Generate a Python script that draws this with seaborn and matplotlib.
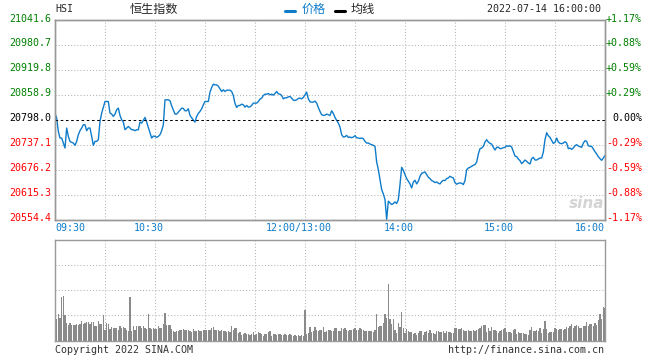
import numpy as np
import matplotlib
matplotlib.use("Agg")
import matplotlib.pyplot as plt
import seaborn as sns
from matplotlib.lines import Line2D
from matplotlib.transforms import ScaledTranslation

# Dados do grafico (HSI, 2022-07-14, um ponto por minuto, 09:30-12:00 + 13:00-16:00)
prev_close = 20798.0
price_ticks = [21041.6, 20980.7, 20919.8, 20858.9, 20798.0, 20737.1, 20676.2, 20615.3, 20554.4]
time_labels = ["09:30", "10:30", "12:00/13:00", "14:00", "15:00", "16:00"]
time_ticks = [0, 60, 150, 210, 270, 330]
grid_minutes = list(range(0, 331, 30))

prices = [
    # 09:30 - 10:00
    20814.2, 20802.0, 20769.6, 20753.3, 20753.3, 20741.1, 20729.0, 20777.7, 20757.4, 20745.2,
    20742.8, 20741.1, 20735.5, 20745.2, 20761.4, 20771.2, 20777.7, 20785.8, 20785.8, 20771.2,
    20777.7, 20777.7, 20757.4, 20735.5, 20745.2, 20745.2, 20749.3, 20793.9, 20814.2, 20828.0,
    # 10:00 - 10:30
    20842.6, 20842.6, 20842.6, 20814.2, 20811.8, 20806.1, 20811.8, 20822.3, 20826.4, 20808.5,
    20798.0, 20792.3, 20773.6, 20777.7, 20781.7, 20777.7, 20773.6, 20773.6, 20771.2, 20773.6,
    20773.6, 20792.3, 20789.9, 20796.4, 20803.7, 20792.3, 20779.3, 20765.5, 20753.3, 20758.2,
    # 10:30 - 11:00
    20757.4, 20754.9, 20757.4, 20761.4, 20771.2, 20785.8, 20846.7, 20846.7, 20846.7, 20844.3,
    20832.1, 20822.3, 20811.8, 20811.8, 20816.7, 20821.5, 20826.4, 20825.6, 20819.9, 20819.9,
    20824.8, 20808.5, 20802.9, 20797.2, 20792.3, 20806.1, 20813.4, 20818.3, 20824.8, 20834.5,
    # 11:00 - 11:30
    20842.6, 20842.6, 20842.6, 20865.4, 20876.7, 20884.9, 20883.2, 20883.2, 20880.0, 20873.5,
    20867.0, 20871.1, 20867.0, 20870.2, 20870.2, 20870.2, 20867.0, 20857.3, 20837.8, 20828.0,
    20832.9, 20832.9, 20836.1, 20834.5, 20828.8, 20832.9, 20828.8, 20829.6, 20832.9, 20838.6,
    # 11:30 - 12:00
    20838.6, 20838.6, 20842.6, 20848.3, 20850.8, 20857.3, 20860.5, 20860.5, 20862.1, 20858.9,
    20860.5, 20858.1, 20862.1, 20867.0, 20861.3, 20860.5, 20857.3, 20849.1, 20851.6, 20851.6,
    20854.0, 20854.8, 20850.8, 20845.9, 20845.1, 20846.7, 20849.9, 20850.8, 20849.1, 20852.4,
    # 12:00/13:00 - 13:30
    20858.9, 20865.4, 20849.1, 20841.8, 20841.0, 20841.0, 20843.5, 20838.6, 20828.0, 20818.3,
    20810.2, 20808.5, 20809.3, 20811.8, 20810.2, 20808.5, 20819.9, 20813.4, 20803.7, 20796.4,
    20789.9, 20780.1, 20761.4, 20755.8, 20756.6, 20759.8, 20754.9, 20755.8, 20754.1, 20755.8,
    # 13:30 - 14:00
    20759.0, 20754.1, 20753.3, 20752.5, 20753.3, 20751.7, 20745.2, 20741.1, 20741.1, 20738.7,
    20737.1, 20735.5, 20733.0, 20694.9, 20676.2, 20651.8, 20627.5, 20616.9, 20603.1, 20554.4,
    20599.0, 20595.0, 20590.9, 20593.4, 20597.4, 20593.4, 20603.1, 20639.6, 20681.9, 20674.6,
    # 14:00 - 14:30
    20664.0, 20654.3, 20647.8, 20641.3, 20631.5, 20646.1, 20650.2, 20641.3, 20647.8, 20659.9,
    20667.2, 20668.9, 20670.5, 20664.0, 20657.5, 20654.3, 20649.4, 20647.8, 20644.5, 20646.1,
    20642.9, 20641.3, 20646.9, 20650.2, 20649.4, 20654.3, 20655.9, 20659.9, 20657.5, 20655.9,
    # 14:30 - 15:00
    20644.5, 20640.5, 20642.9, 20643.7, 20642.9, 20639.6, 20649.4, 20676.2, 20680.2, 20681.9,
    20684.3, 20686.7, 20688.4, 20694.9, 20714.3, 20727.3, 20729.0, 20733.0, 20743.6, 20749.3,
    20743.6, 20740.3, 20738.7, 20730.6, 20724.1, 20730.6, 20731.4, 20727.3, 20728.1, 20729.8,
    # 15:00 - 15:30
    20730.6, 20734.6, 20733.0, 20734.6, 20731.4, 20720.8, 20709.5, 20707.8, 20702.2, 20698.1,
    20690.8, 20694.9, 20699.7, 20696.5, 20692.4, 20690.0, 20703.0, 20706.2, 20699.7, 20699.7,
    20702.2, 20704.6, 20704.6, 20719.2, 20749.3, 20766.3, 20759.0, 20754.9, 20747.6, 20740.3,
    # 15:30 - 16:00
    20742.8, 20753.3, 20743.6, 20740.3, 20739.5, 20741.1, 20744.4, 20741.1, 20727.3, 20729.0,
    20725.7, 20729.0, 20734.6, 20737.1, 20733.8, 20732.2, 20730.6, 20741.1, 20746.8, 20745.2,
    20734.6, 20733.0, 20733.0, 20726.5, 20720.0, 20714.3, 20707.8, 20703.0, 20698.9, 20704.6,
    20711.1,
]

# volume relativo (1 unidade = uma linha da grade do painel inferior)
volume = [
    0.80, 0.85, 1.05, 0.89, 1.72, 1.79, 1.03, 0.69, 0.63, 0.69,
    0.63, 0.63, 0.60, 0.67, 0.63, 0.67, 0.76, 0.67, 0.69, 0.73,
    0.73, 0.66, 0.73, 0.73, 0.56, 0.59, 0.76, 0.66, 0.66, 1.03,
    0.40, 0.69, 0.65, 0.45, 0.53, 0.49, 0.49, 0.49, 0.40, 0.56,
    0.49, 0.53, 0.50, 0.43, 0.36, 1.72, 0.36, 0.56, 0.40, 0.59,
    0.59, 0.59, 0.49, 0.59, 0.49, 0.45, 1.07, 0.49, 0.45, 0.49,
    0.45, 0.45, 0.56, 0.49, 0.49, 0.67, 1.09, 0.63, 0.63, 0.63,
    0.45, 0.36, 0.32, 0.36, 0.36, 0.40, 0.43, 0.45, 0.40, 0.40,
    0.40, 0.36, 0.32, 0.45, 0.36, 0.36, 0.43, 0.36, 0.36, 0.40,
    0.40, 0.40, 0.40, 0.40, 0.49, 0.53, 0.43, 0.43, 0.43, 0.36,
    0.40, 0.36, 0.36, 0.32, 0.36, 0.32, 0.56, 0.43, 0.49, 0.49,
    0.29, 0.32, 0.23, 0.27, 0.29, 0.27, 0.27, 0.23, 0.27, 0.32,
    0.23, 0.27, 0.32, 0.29, 0.27, 0.19, 0.27, 0.27, 0.32, 0.36,
    0.19, 0.27, 0.27, 0.23, 0.27, 0.27, 0.23, 0.23, 0.27, 0.23,
    0.23, 0.27, 0.23, 0.19, 0.23, 0.19, 0.23, 0.19, 0.23, 0.19,
    1.23, 0.27, 0.29, 0.53, 0.32, 0.36, 0.53, 0.40, 0.36, 0.40,
    0.43, 0.53, 0.32, 0.36, 0.40, 0.40, 0.36, 0.36, 0.49, 0.49,
    0.36, 0.36, 0.49, 0.45, 0.49, 0.43, 0.36, 0.43, 0.43, 0.45,
    0.49, 0.40, 0.43, 0.49, 0.45, 0.40, 0.36, 0.36, 0.36, 0.36,
    0.36, 0.32, 0.43, 1.07, 0.53, 0.59, 0.59, 0.69, 1.07, 0.89,
    2.23, 0.85, 0.67, 0.85, 0.40, 0.29, 0.69, 0.53, 1.12, 0.49,
    0.29, 0.45, 0.36, 0.32, 0.32, 0.27, 0.29, 0.23, 0.29, 0.36,
    0.36, 0.23, 0.32, 0.36, 0.29, 0.40, 0.29, 0.29, 0.27, 0.36,
    0.36, 0.32, 0.32, 0.36, 0.29, 0.36, 0.32, 0.32, 0.29, 0.29,
    0.49, 0.49, 0.45, 0.45, 0.49, 0.40, 0.36, 0.36, 0.40, 0.36,
    0.36, 0.40, 0.36, 0.40, 0.45, 0.49, 0.56, 0.63, 0.63, 0.32,
    0.49, 0.36, 0.53, 0.40, 0.40, 0.36, 0.29, 0.36, 0.43, 0.45,
    0.49, 0.32, 0.32, 0.32, 0.29, 0.43, 0.45, 0.27, 0.32, 0.29,
    0.29, 0.29, 0.27, 0.27, 0.23, 0.40, 0.53, 0.36, 0.36, 0.40,
    0.36, 0.49, 0.29, 0.45, 0.79, 0.45, 0.29, 0.32, 0.32, 0.32,
    0.49, 0.45, 0.43, 0.45, 0.45, 0.40, 0.45, 0.53, 0.49, 0.56,
    0.67, 0.49, 0.56, 0.63, 0.56, 0.49, 0.49, 0.59, 0.56, 0.72,
    0.56, 0.67, 0.67, 0.56, 0.69, 0.63, 0.80, 1.07, 0.85, 1.33,
    1.31,
]

minutes = np.arange(331)
assert len(prices) == len(minutes) and len(volume) == len(minutes)

BLUE = "#0f7cca"
GREEN = "#008000"
RED = "#ff0000"
FRAME = "#999999"
GRID = "#b4b4b4"
MONO = "DejaVu Sans Mono"
CJK = ["Noto Sans CJK SC", "DejaVu Sans"]

sns.set_style("white")
plt.rcParams["font.family"] = [MONO, "Noto Sans CJK SC"]

W, H = 660, 360
fig = plt.figure(figsize=(W / 100, H / 100), dpi=100)


def box(l, t, r, b):
    return [l / W, 1 - b / H, (r - l) / W, (b - t) / H]


def fx(x):
    return x / W


def fy(y):
    return 1 - y / H


ax = fig.add_axes(box(55, 20, 605, 219.5))
vax = fig.add_axes(box(55, 240, 605, 340.5))

# linha de preco
sns.lineplot(x=minutes, y=prices, ax=ax, color=BLUE, linewidth=1.0)
ax.axhline(prev_close, color="black", lw=0.75, ls=(0, (2.5, 2.5)), zorder=3)
ax.set_xlim(0, 330)
ax.set_ylim(price_ticks[-1], price_ticks[0])
ax.set_xlabel("")
ax.set_ylabel("")
ax.set_xticks(grid_minutes)
ax.set_xticklabels([])
ax.set_yticks(price_ticks)
ax.set_yticklabels([f"{v:.1f}" for v in price_ticks])
ax.tick_params(length=0, labelsize=7.2, pad=3)
ax.grid(True, color=GRID, lw=0.75, ls=(0, (1, 2)))
for gl, v in zip(ax.get_ygridlines(), price_ticks):
    if v == prev_close:
        gl.set_visible(False)

up = ScaledTranslation(0, 0.025, fig.dpi_scale_trans)
for lbl, v in zip(ax.get_yticklabels(), price_ticks):
    lbl.set_color(GREEN if v > prev_close else RED if v < prev_close else "black")
    lbl.set_transform(lbl.get_transform() + up)

# eixo da direita em percentual
rax = ax.twinx()
rax.set_ylim(price_ticks[-1], price_ticks[0])
rax.set_yticks(price_ticks)
pct_labels = []
for v in price_ticks:
    pct = (v - prev_close) / prev_close * 100
    pct_labels.append("0.00%" if abs(pct) < 0.005 else f"{pct:+.2f}%")
rax.set_yticklabels(pct_labels)
rax.tick_params(length=0, labelsize=7.2, pad=26.6)
for lbl, v in zip(rax.get_yticklabels(), price_ticks):
    lbl.set_horizontalalignment("right")
    lbl.set_color(GREEN if v > prev_close else RED if v < prev_close else "black")
    lbl.set_transform(lbl.get_transform() + up)

for a in (ax, rax, vax):
    for s in a.spines.values():
        s.set_color(FRAME)
        s.set_linewidth(1.0)
        s.set_visible(True)

# horarios
for m, lbl in zip(time_ticks, time_labels):
    if m == time_ticks[0]:
        ha, dx = "left", 0
    elif m == time_ticks[-1]:
        ha, dx = "right", 0
    else:
        ha, dx = "center", -6
    ax.annotate(lbl, xy=(m, 0), xycoords=("data", "axes fraction"), xytext=(dx, -8),
                textcoords="offset pixels", ha=ha, va="center", color=BLUE,
                fontsize=7.2, family=MONO)

# volume (posicoes categoricas 0..330 = minutos)
sns.barplot(x=minutes, y=volume, ax=vax, color="#8a8a8a", saturation=1,
            width=0.7, errorbar=None, linewidth=0, edgecolor="none")
vax.set_xlim(0, 330)
vax.set_ylim(0, 4)
vax.set_xlabel("")
vax.set_ylabel("")
vax.set_xticks(grid_minutes)
vax.set_xticklabels([])
vax.set_yticks([1, 2, 3])
vax.set_yticklabels([])
vax.tick_params(length=0)
vax.grid(True, color=GRID, lw=0.75, ls=(0, (1, 2)))
vax.set_axisbelow(True)

# cabecalho
fig.text(fx(55), fy(9.5), "HSI", ha="left", va="center", fontsize=7.2, family=MONO)
fig.text(fx(130), fy(9.5), "恒生指数", ha="left", va="center", fontsize=8.7, family=CJK)
fig.add_artist(Line2D([fx(285), fx(295)], [fy(11), fy(11)], lw=2.2, color=BLUE,
                      transform=fig.transFigure))
fig.text(fx(302), fy(9.5), "价格", ha="left", va="center", fontsize=8.7, family=CJK, color=BLUE)
fig.add_artist(Line2D([fx(335), fx(345)], [fy(11), fy(11)], lw=2.2, color="black",
                      transform=fig.transFigure))
fig.text(fx(351), fy(9.5), "均线", ha="left", va="center", fontsize=8.7, family=CJK)
fig.text(fx(601), fy(9.5), "2022-07-14 16:00:00", ha="right", va="center", fontsize=7.2, family=MONO)

# rodape e marca d'agua
fig.text(fx(55), fy(350), "Copyright 2022 SINA.COM", ha="left", va="center",
         fontsize=7.2, family=MONO, color="#333333")
fig.text(fx(604), fy(350), "http://finance.sina.com.cn", ha="right", va="center",
         fontsize=7.2, family=MONO, color="#333333")
fig.text(fx(587), fy(204), "sina", ha="center", va="center", fontsize=11,
         family="DejaVu Sans", style="italic", weight="bold", color="#d4d4d4")

fig.savefig("out.png", dpi=100)
